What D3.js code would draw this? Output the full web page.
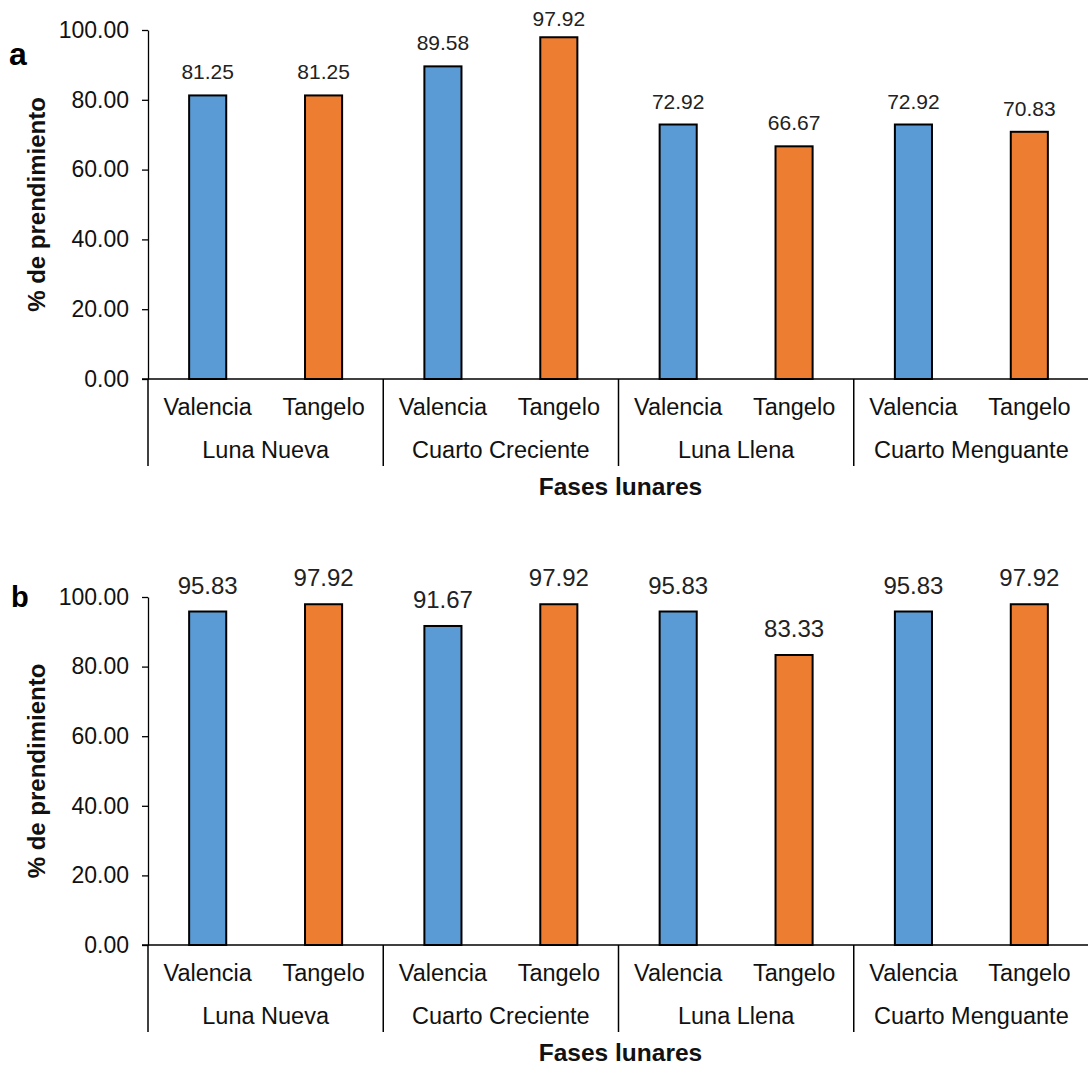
<!DOCTYPE html>
<html><head><meta charset="utf-8">
<script src="https://cdn.jsdelivr.net/npm/d3@7"></script>
<style>body{margin:0;background:#fff}svg{display:block}</style>
</head><body>
<svg id="c" width="1088" height="1066"></svg>
<script>
const groups = ["Luna Nueva","Cuarto Creciente","Luna Llena","Cuarto Menguante"];
const series = ["Valencia","Tangelo"];
const valuesA = [[81.25,81.25],[89.58,97.92],[72.92,66.67],[72.92,70.83]];
const valuesB = [[95.83,97.92],[91.67,97.92],[95.83,83.33],[95.83,97.92]];
const yTicks = [0,20,40,60,80,100];
const colors = ["#5B9BD5","#ED7D31"];

const svg = d3.select("#c");
const font = "Liberation Sans, Arial, sans-serif";
const x0 = 148, x1 = 1089;

function panel(letter, values, top, bottom, labelSize, labelGap, minBase, letterSize, letterX, letterY){
  const g = svg.append("g");
  const y = d3.scaleLinear().domain([0,100]).range([bottom, top]);
  const gx = d3.scaleBand().domain(groups).range([x0,x1]);
  const sx = d3.scaleBand().domain(series).range([0,gx.bandwidth()]).paddingInner(0.68).paddingOuter(0.355);

  // y axis
  const ya = d3.axisLeft(y).tickValues(yTicks).tickFormat(d3.format(".2f")).tickSize(6).tickSizeOuter(0);
  const ag = g.append("g").attr("transform",`translate(${x0},0)`).call(ya);
  ag.select(".domain").attr("stroke","#000").attr("stroke-width",1.3);
  ag.selectAll(".tick line").attr("stroke","#000").attr("stroke-width",1.3);
  ag.selectAll(".tick text").attr("font-family",font).attr("font-size",23).attr("fill","#111").attr("x",-19);

  // bars
  groups.forEach((grp,i)=>{
    series.forEach((s,j)=>{
      const v = values[i][j];
      const bx = gx(grp)+sx(s);
      g.append("rect").attr("x",bx).attr("y",y(v)).attr("width",sx.bandwidth()).attr("height",y(0)-y(v))
        .attr("fill",colors[j]).attr("stroke","#000").attr("stroke-width",2);
      g.append("text").attr("x",bx+sx.bandwidth()/2).attr("y",Math.max(y(v)-labelGap, minBase)).attr("text-anchor","middle")
        .attr("font-family",font).attr("font-size",labelSize).attr("fill","#222").text(v.toFixed(2));
      g.append("text").attr("x",gx(grp)+sx(s)+sx.bandwidth()/2).attr("y",bottom+36).attr("text-anchor","middle")
        .attr("font-family",font).attr("font-size",23.5).attr("fill","#111").text(s);
    });
    g.append("text").attr("x",gx(grp)+gx.bandwidth()/2).attr("y",bottom+79).attr("text-anchor","middle")
      .attr("font-family",font).attr("font-size",23.5).attr("fill","#111").text(grp);
  });

  // x axis line
  g.append("line").attr("x1",x0-6).attr("x2",x1).attr("y1",bottom).attr("y2",bottom).attr("stroke","#000").attr("stroke-width",1.5);
  // separators
  groups.map(d=>gx(d)).forEach(sxp=>{
    g.append("line").attr("x1",sxp).attr("x2",sxp).attr("y1",bottom).attr("y2",bottom+87).attr("stroke","#000").attr("stroke-width",1.5);
  });

  // axis titles
  g.append("text").attr("x",(x0+x1)/2 + 2).attr("y",bottom+116).attr("text-anchor","middle")
    .attr("font-family",font).attr("font-size",24.5).attr("font-weight","bold").attr("fill","#111").text("Fases lunares");
  g.append("text").attr("transform",`translate(45,${(top+bottom)/2}) rotate(-90)`).attr("text-anchor","middle")
    .attr("font-family",font).attr("font-size",24).attr("font-weight","bold").attr("fill","#111").text("% de prendimiento");
  g.append("text").attr("x",letterX).attr("y",letterY).attr("font-family",font).attr("font-size",letterSize).attr("font-weight","bold").attr("fill","#000").text(letter);
}

panel("a", valuesA, 30, 379, 21, 16, 26, 32, 9, 65);
panel("b", valuesB, 597, 945, 24, 18, 0, 29, 11, 607);
</script>
</body></html>
